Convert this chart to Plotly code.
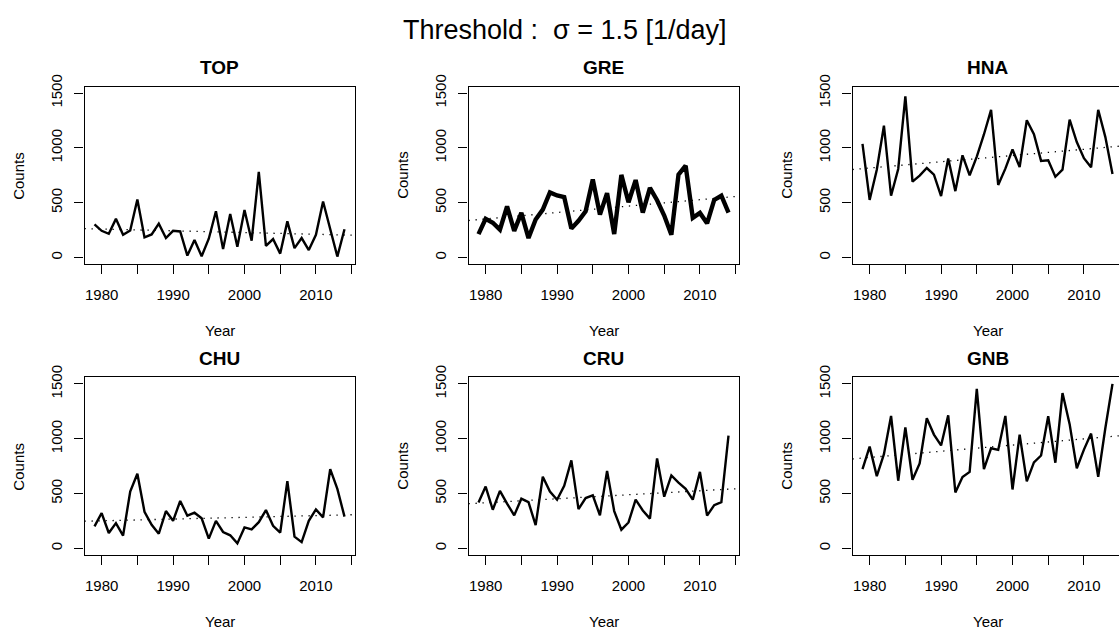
import numpy as np
import plotly.graph_objects as go

# ---- data -------------------------------------------------------------
years = list(range(1979, 2015))

top = [303, 244, 217, 353, 208, 247, 529, 184, 211, 309,
       178, 244, 238, 18, 160, 12, 172, 422, 77, 398,
       98, 434, 154, 781, 107, 169, 36, 330, 86, 178,
       68, 208, 511, 261, 9, 258]
gre = [214, 353, 318, 255, 466, 244, 407, 178, 347, 437,
       594, 567, 552, 264, 336, 422, 713, 392, 588, 214,
       754, 505, 707, 410, 636, 523, 383, 208, 757, 838,
       362, 407, 312, 526, 564, 410]
hna = [1037, 526, 802, 1203, 564, 808, 1470, 692, 748, 817,
       757, 561, 903, 606, 933, 751, 921, 1123, 1348, 662,
       811, 986, 826, 1253, 1126, 882, 888, 737, 802, 1259,
       1054, 906, 823, 1348, 1099, 763]
chu = [200, 322, 140, 230, 116, 519, 680, 334, 215, 134,
       340, 251, 432, 298, 325, 274, 89, 251, 149, 119,
       45, 191, 173, 239, 349, 206, 143, 614, 107, 57,
       251, 355, 283, 722, 543, 289]
cru = [418, 564, 352, 525, 409, 301, 453, 421, 212, 653,
       519, 444, 570, 802, 358, 459, 483, 301, 707, 340,
       170, 236, 444, 346, 271, 820, 471, 665, 599, 543,
       444, 698, 298, 394, 421, 1029]
gnb = [722, 928, 659, 859, 1208, 617, 1103, 626, 775, 1187,
       1038, 939, 1214, 510, 650, 698, 1455, 722, 913, 898,
       1208, 537, 1038, 611, 784, 847, 1205, 781, 1417, 1133,
       731, 901, 1047, 653, 1098, 1500]

stations = ["TOP", "GRE", "HNA", "CHU", "CRU", "GNB"]
series = [top, gre, hna, chu, cru, gnb]

x_tickvals = list(range(1980, 2020, 5))
x_ticktext = [str(v) if v % 10 == 0 else "" for v in x_tickvals]
y_tickvals = [0, 500, 1000, 1500]
y_ticktext = ["0", "500", "1000", "1500"]

main_title = "Threshold :\u00a0\u00a0\u03c3 = 1.5 [1/day]"

# ---- layout geometry (pixels) -----------------------------------------
W, H = 1119, 634
FONT = "Liberation Sans, Arial, Helvetica, sans-serif"

x_lo, x_hi = 1977.6, 2015.4
y_lo, y_hi = -60, 1560
box_w = 270.0
col_left = [84.5, 468.5, 852.5]
row_top = [76.0, 372.4]
box_h = 181.0
px_per_year = box_w / (x_hi - x_lo)


def px(x):
    return x / W


def py(y):
    return 1 - y / H


fig = go.Figure()
annotations = []

for i, (name, vals) in enumerate(zip(stations, series)):
    r, c = divmod(i, 3)
    left = col_left[c]
    right = left + box_w
    top_px = row_top[r]
    bot_px = top_px + box_h
    clipped = right > W
    xr_hi = x_hi if not clipped else x_lo + (W - left) / px_per_year
    dom_x = [px(left), min(px(right), 1.0)]
    dom_y = [py(bot_px), py(top_px)]

    k = "" if i == 0 else str(i + 1)
    xa, ya = "x" + k, "y" + k

    lw = 4.4 if name == "GRE" else 2.4
    fig.add_trace(go.Scatter(
        x=years, y=vals, mode="lines", xaxis=xa, yaxis=ya,
        line=dict(color="black", width=lw), showlegend=False,
        hoverinfo="skip"))

    # least-squares trend across the whole plotting region
    slope, icpt = np.polyfit(years, vals, 1)
    tx = [x_lo, x_hi]
    fig.add_trace(go.Scatter(
        x=tx, y=[slope * t + icpt for t in tx], mode="lines",
        xaxis=xa, yaxis=ya,
        line=dict(color="black", width=1.3, dash="1.3px,5.7px"),
        showlegend=False, hoverinfo="skip"))

    fig.layout["xaxis" + k] = dict(
        domain=dom_x, anchor=ya, range=[x_lo, xr_hi],
        showline=True, mirror=True, linecolor="black", linewidth=1.2,
        showgrid=False, zeroline=False,
        ticks="outside", ticklen=9, tickwidth=1.1, tickcolor="black",
        tickvals=x_tickvals, ticktext=x_ticktext,
        tickfont=dict(family=FONT, size=15, color="black"),
        ticklabelstandoff=8)
    fig.layout["yaxis" + k] = dict(
        domain=dom_y, anchor=xa, range=[y_lo, y_hi],
        showline=True, mirror=(not clipped), linecolor="black",
        linewidth=1.2, showgrid=False, zeroline=False,
        ticks="outside", ticklen=9, tickwidth=1.1, tickcolor="black",
        tickvals=y_tickvals, ticktext=y_ticktext, tickangle=-90,
        tickfont=dict(family=FONT, size=15, color="black"),
        ticklabelstandoff=6)

    cx = left + box_w / 2
    annotations.append(dict(
        text="<b>" + name + "</b>", x=px(cx), y=py(top_px - 19.5),
        xref="paper", yref="paper", xanchor="center", yanchor="middle",
        showarrow=False, font=dict(family=FONT, size=19, color="black")))
    annotations.append(dict(
        text="Year", x=px(cx), y=py(bot_px + 68),
        xref="paper", yref="paper", xanchor="center", yanchor="middle",
        showarrow=False, font=dict(family=FONT, size=15, color="black")))
    annotations.append(dict(
        text="Counts", x=px(left - 66), y=py(top_px + box_h / 2),
        xref="paper", yref="paper", xanchor="center", yanchor="middle",
        textangle=-90, showarrow=False,
        font=dict(family=FONT, size=15, color="black")))

annotations.append(dict(
    text=main_title, x=px(565), y=py(18), xref="paper", yref="paper",
    xanchor="center", yanchor="middle", showarrow=False,
    font=dict(family=FONT, size=27, color="black")))

fig.update_layout(
    width=W, height=H, autosize=False,
    margin=dict(l=0, r=0, t=0, b=0),
    paper_bgcolor="white", plot_bgcolor="white",
    annotations=annotations,
)

fig.write_html("out.html")
